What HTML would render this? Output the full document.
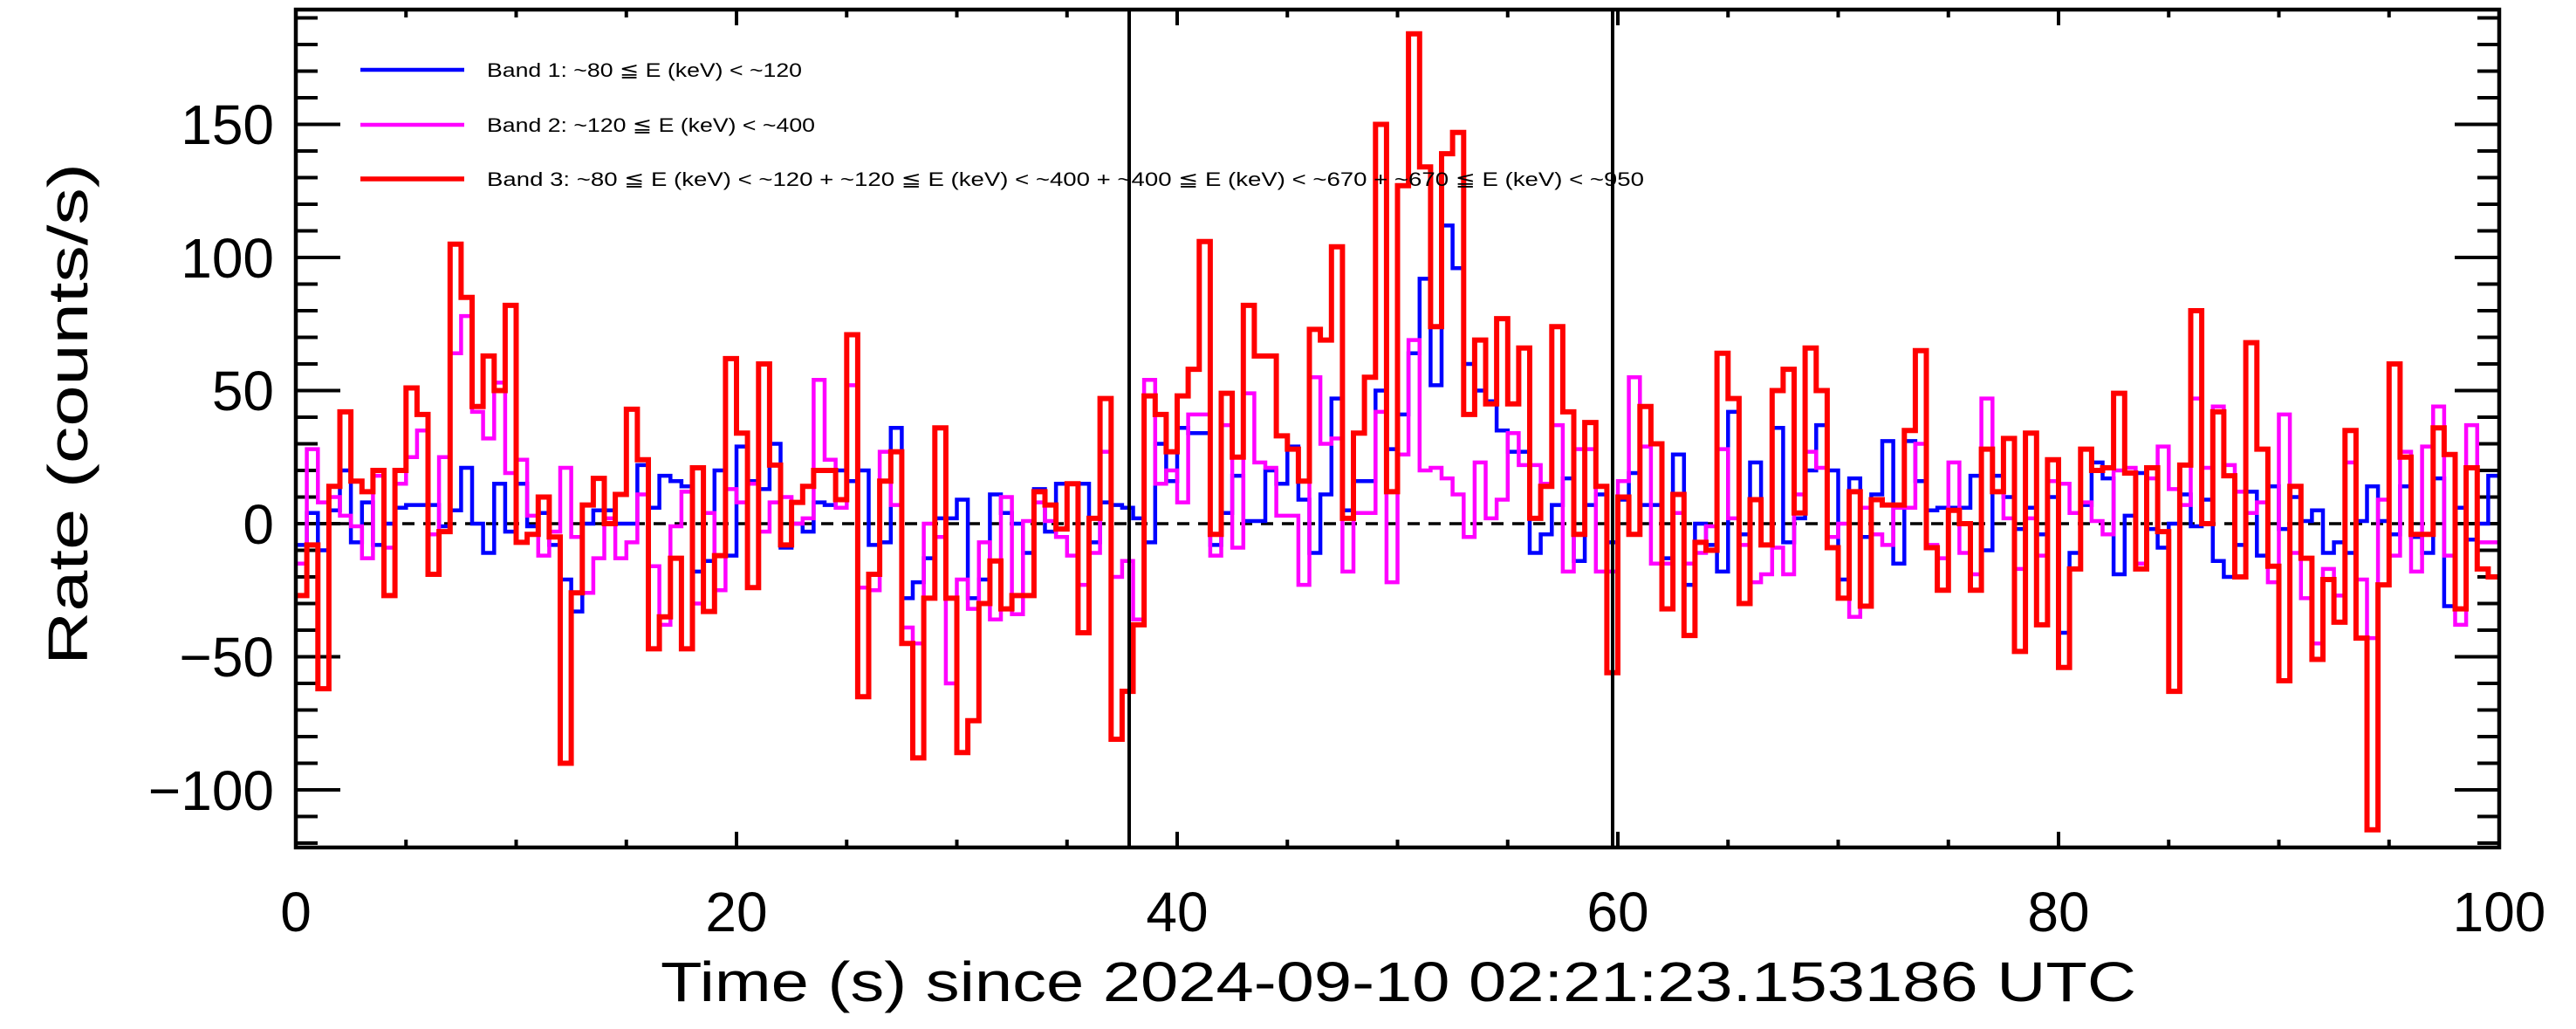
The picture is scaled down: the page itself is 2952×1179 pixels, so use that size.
<!DOCTYPE html>
<html><head><meta charset="utf-8"><style>
html,body{margin:0;padding:0;background:#fff;}
svg{display:block;}
text{font-family:"Liberation Sans","DejaVu Sans",sans-serif;fill:#000;}
</style></head><body>
<svg id="s" width="2952" height="1179" viewBox="0 0 2952 1179" xmlns="http://www.w3.org/2000/svg">
<rect x="0" y="0" width="2952" height="1179" fill="#fff"/>
<g id="ticks" stroke="#000" stroke-width="4"></g>
<line x1="341" y1="600" x2="2862" y2="600" stroke="#000" stroke-width="3.5" stroke-dasharray="14,10"/>
<g id="series" fill="none" stroke-linejoin="miter"></g>
<line x1="1294" y1="11" x2="1294" y2="971" stroke="#000" stroke-width="4"/>
<line x1="1848" y1="11" x2="1848" y2="971" stroke="#000" stroke-width="4"/>
<rect x="339" y="11" width="2525" height="960" fill="none" stroke="#000" stroke-width="4.5"/>
<!-- legend -->
<line x1="413" y1="80" x2="532" y2="80" stroke="#0000ff" stroke-width="4.5"/>
<line x1="413" y1="143" x2="532" y2="143" stroke="#ff00ff" stroke-width="4.5"/>
<line x1="413" y1="205" x2="532" y2="205" stroke="#ff0000" stroke-width="5.5"/>
<text x="558" y="88" font-size="22" textLength="361" lengthAdjust="spacingAndGlyphs">Band 1: ~80 ≦ E (keV) &lt; ~120</text>
<text x="558" y="151" font-size="22" textLength="376" lengthAdjust="spacingAndGlyphs">Band 2: ~120 ≦ E (keV) &lt; ~400</text>
<text x="558" y="213" font-size="22" textLength="1326" lengthAdjust="spacingAndGlyphs">Band 3: ~80 ≦ E (keV) &lt; ~120 + ~120 ≦ E (keV) &lt; ~400 + ~400 ≦ E (keV) &lt; ~670 + ~670 ≦ E (keV) &lt; ~950</text>
<!-- y labels -->
<g font-size="64" text-anchor="end">
<text x="314" y="165">150</text>
<text x="314" y="318">100</text>
<text x="314" y="623">0</text>
<text x="314" y="470">50</text>
<text x="314" y="775">−50</text>
<text x="314" y="928">−100</text>
</g>
<g font-size="64" text-anchor="middle">
<text x="339" y="1067">0</text>
<text x="844" y="1067">20</text>
<text x="1349" y="1067">40</text>
<text x="1854" y="1067">60</text>
<text x="2359" y="1067">80</text>
<text x="2864" y="1067">100</text>
</g>
<text x="757" y="1147" font-size="64" textLength="1691" lengthAdjust="spacingAndGlyphs">Time (s) since 2024-09-10 02:21:23.153186 UTC</text>
<text transform="translate(100,762) rotate(-90)" font-size="64" textLength="575" lengthAdjust="spacingAndGlyphs">Rate (counts/s)</text>
</svg>
<script>
(function(){
var NS="http://www.w3.org/2000/svg";
function X(t){return 339+25.25*t;}
function Y(v){return 600-3.05*v;}
var tk=document.getElementById('ticks'),d='';
for(var t=0;t<=100;t+=5){var L=(t%20==0)?18:9;var x=X(t);d+='M'+x+' 971V'+(971-L)+'M'+x+' 11V'+(11+L);}
for(var v=-120;v<=190;v+=10){var L=(v%50==0)?51:25;var y=Y(v);d+='M339 '+y+'H'+(339+L)+'M2864 '+y+'H'+(2864-L);}
var p=document.createElementNS(NS,'path');p.setAttribute('d',d);tk.appendChild(p);

function build(A,part,B,C){
  var a=new Array(200).fill(0);
  for(var i=0;i<Math.min(A.length,52);i++)a[i]=A[i];
  a[52]=part;
  for(var i=0;i<Math.min(B.length,76);i++)a[53+i]=B[i];
  for(var i=0;i<Math.min(C.length,71);i++)a[129+i]=C[i];
  return a;
}
var blue=build(
[-8,4,-10,5,20,-7,8,-8,0,6,7,7,7,-1,5,21,0,-11,15,-3,15,-1,4,-8,-21,-33,0,5,5,0,0,22,6,18,16,14,-18,-14,20,-12,29,16,13,30,-9,0,-3,8,7,20,16,20],
-8,
[-7,36,-28,-22,-13,2,2,9,-28,-21,11,4,0,-11,13,-3,15,15,15,-7,8,7,6,2,-7,30,16,36,34,34,-8,4,18,1,1,20,15,29,9,-11,11,47,5,16,16,50,28,41,64,92,52,112,96,60,50,46,35,27,27,-11,-4,7,17,-14,7,11,-7,9,19,7,7,-13,26,-23,0,-8],
[-18,42,-4,23,-8,36,-7,2,20,37,20,-21,17,-5,11,31,-15,31,16,5,6,6,6,18,-10,18,10,-2,6,-4,10,-41,-11,7,23,17,-19,3,19,-2,-9,0,11,-1,9,-14,-20,-8,12,-12,14,-2,10,1,5,-11,-7,-11,1,14,1,-4,14,-5,-11,17,-31,6,-6,0,18]);
var mag=build(
[-15,28,8,10,3,-1,-13,18,-9,15,25,35,-4,25,64,78,42,32,53,19,24,3,-12,-3,21,-5,-26,-13,2,-13,-7,11,-16,-38,-1,12,-30,4,-25,13,8,15,-3,8,10,0,2,54,24,6,52,-24],
-25,
[27,7,-39,-45,0,-5,-60,-21,-32,-7,-36,10,-34,1,8,1,-5,-12,-23,-11,27,-20,-14,-36,54,15,20,8,41,41,-12,37,-9,49,23,21,3,3,-23,55,30,32,-18,4,4,42,-22,26,69,20,21,17,11,-5,23,2,9,34,22,22,15,37,-18,28,28,-18,-18,16,55,29,-15,-15,4,-15,-11,-1],
[28,2,-8,-22,-19,-9,-19,11,27,21,-5,0,-35,6,-4,-8,6,6,30,-8,-13,23,-11,-19,47,12,2,-17,2,-12,16,15,4,8,1,-4,20,21,-15,17,29,13,7,47,21,44,22,12,4,8,-22,41,-11,-28,-45,-17,-27,23,-21,-43,9,-12,27,-18,29,44,-12,-38,37,-7,-7]);
var red=build(
[-27,-8,-62,14,42,16,12,20,-27,20,51,41,-19,-3,105,85,44,63,50,82,-7,-4,10,-5,-90,-26,7,17,0,11,43,24,-47,-35,-13,-47,21,-33,-12,62,34,-24,60,22,-8,8,14,20,20,9,71,-65],
-19,
[16,27,-45,-88,-28,36,-28,-86,-74,-30,-14,-32,-27,-27,12,7,-2,15,-41,2,47,-81,-63,-38,48,41,27,48,58,106,-4,49,25,82,63,63,33,28,16,73,69,104,2,34,55,150,12,127,184,134,74,139,147,41,69,45,77,45,66,2,14,74,42,-4,38,14,-56,10,-4,44,30,-32,11,-42,-7,-10],
[64,47,-30,9,-8,50,58,4,66,50,-9,-28,12,-31,9,7,7,35,65,-9,-25,5,0,-25,28,12,32,-48,34,-38,24,-54,-17,28,20,21,49,19,-17,21,-3,-63,22,80,0,42,18,-20,68,28,-16,-59,14,-13,-51,-21,-37,35,-43,-115,-23,60,25,-4,-4,36,26,-32,21,-17,-20]);
function step(a){
  var s='M'+X(0)+' '+Y(a[0]).toFixed(1);
  for(var i=0;i<a.length;i++){
    if(i>0)s+='V'+Y(a[i]).toFixed(1);
    s+='H'+X((i+1)*0.5).toFixed(1);
  }
  return s;
}
var g=document.getElementById('series');
[[blue,'#0000ff',4.5],[mag,'#ff00ff',4.5],[red,'#ff0000',6]].forEach(function(q){
  var p=document.createElementNS(NS,'path');p.setAttribute('d',step(q[0]));
  p.setAttribute('stroke',q[1]);p.setAttribute('stroke-width',q[2]);g.appendChild(p);
});
})();
</script>
</body></html>
